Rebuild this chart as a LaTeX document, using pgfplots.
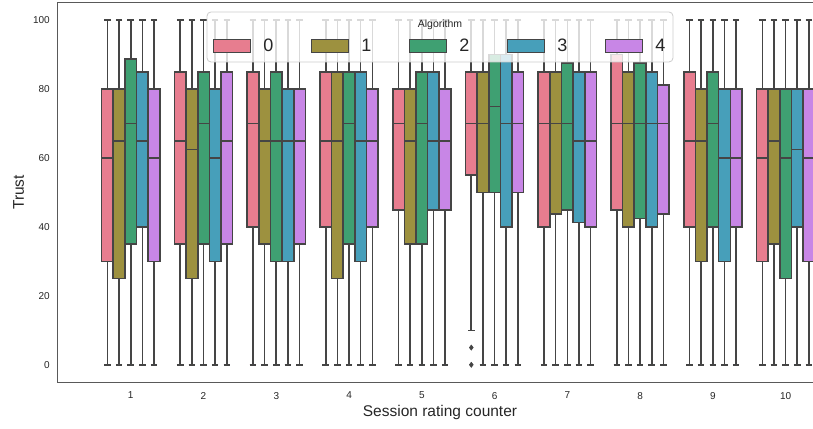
\documentclass[border=0pt]{standalone}
\usepackage{pgfplots}
\pgfplotsset{compat=1.18}
\usepgfplotslibrary{statistics}
\usepackage{fontspec}
\setmainfont{Liberation Sans}
\definecolor{c0}{HTML}{E77D8F}
\definecolor{c1}{HTML}{9D913F}
\definecolor{c2}{HTML}{3FA072}
\definecolor{c3}{HTML}{479FBA}
\definecolor{c4}{HTML}{C886E6}
\definecolor{edge}{HTML}{454545}
\definecolor{txt}{HTML}{262626}
% group, hue, lower quartile, median, upper quartile
\newcommand{\bx}[5]{\addplot[forget plot, fill=c#2, draw=edge, line width=1.6pt,
  boxplot prepared={draw direction=y, draw position={#1+(#2-2)*0.16}, lower whisker=0, lower quartile=#3,
  median=#4, upper quartile=#5, upper whisker=100, box extend=0.16, whisker extend=0.09,
  every whisker/.style={draw=edge, line width=1.6pt},
  every median/.style={draw=edge, line width=1.6pt},
  every box/.style={draw=edge, line width=1.6pt, fill=c#2}}] coordinates {};}
\newcommand{\leg}[2]{\addlegendimage{legend image code/.code={\draw[fill=#1,draw=edge,line width=1pt] (0pt,-6.5pt) rectangle (37pt,6.5pt);}}\addlegendentry{#2}}
\begin{document}
\begin{tikzpicture}
\begin{axis}[at={(0pt,0pt)}, anchor=south west, scale only axis,
  width=764pt, height=379pt,
  xmin=0, xmax=10.5, ymin=-5, ymax=105,
  xtick={1,...,10}, ytick={0,20,...,100},
  major tick length=0pt,
  axis line style={draw=black!65, line width=1pt},
  tick label style={font=\fontsize{10}{12}\selectfont, text=txt},
  /pgf/number format/assume math mode=true,
  yticklabel style={xshift=-4.7pt},
  xticklabel style={yshift=-6.5pt},
  xlabel={Session rating counter}, ylabel={Trust},
  label style={font=\fontsize{15.5}{18}\selectfont, text=txt},
  xlabel style={at={(axis description cs:0.5,-0.0792)}, anchor=center},
  ylabel style={at={(axis description cs:-0.0517,0.5)}, anchor=center},
  legend columns=5,
  legend cell align=left,
  legend style={at={(axis cs:2.134,92.58)}, anchor=west, draw=none, fill=none,
    inner sep=0pt, outer sep=0pt, font=\fontsize{18}{21}\selectfont, text=txt,
    /tikz/every odd column/.append style={column sep=10pt},
    /tikz/every even column/.append style={column sep=36pt}},
]
% group 1
\bx{1}{0}{30}{60}{80}
\bx{1}{1}{25}{65}{80}
\bx{1}{2}{35}{70}{88.75}
\bx{1}{3}{40}{65}{85}
\bx{1}{4}{30}{60}{80}
% group 2
\bx{2}{0}{35}{65}{85}
\bx{2}{1}{25}{62.5}{80}
\bx{2}{2}{35}{70}{85}
\bx{2}{3}{30}{60}{80}
\bx{2}{4}{35}{65}{85}
% group 3
\bx{3}{0}{40}{70}{85}
\bx{3}{1}{35}{65}{80}
\bx{3}{2}{30}{65}{85}
\bx{3}{3}{30}{65}{80}
\bx{3}{4}{35}{65}{80}
% group 4
\bx{4}{0}{40}{65}{85}
\bx{4}{1}{25}{65}{85}
\bx{4}{2}{35}{70}{85}
\bx{4}{3}{30}{65}{85}
\bx{4}{4}{40}{65}{80}
% group 5
\bx{5}{0}{45}{70}{80}
\bx{5}{1}{35}{65}{80}
\bx{5}{2}{35}{70}{85}
\bx{5}{3}{45}{65}{85}
\bx{5}{4}{45}{65}{80}
% group 6
\addplot[forget plot, fill=c0, draw=edge, line width=1.6pt,
  mark=diamond*, mark size=2.6pt, mark options={fill=edge, draw=edge, line width=0.5pt},
  boxplot prepared={draw direction=y, draw position={6-0.32}, lower whisker=10, lower quartile=55,
  median=70, upper quartile=85, upper whisker=100, box extend=0.16, whisker extend=0.09,
  every whisker/.style={draw=edge, line width=1.6pt},
  every median/.style={draw=edge, line width=1.6pt},
  every box/.style={draw=edge, line width=1.6pt, fill=c0}}]
  table[row sep=\\, y index=0] {data\\ 5\\ 0\\};
\bx{6}{1}{50}{70}{85}
\bx{6}{2}{50}{75}{90}
\bx{6}{3}{40}{70}{90}
\bx{6}{4}{50}{70}{85}
% group 7
\bx{7}{0}{40}{70}{85}
\bx{7}{1}{43.75}{70}{85}
\bx{7}{2}{45}{70}{87.5}
\bx{7}{3}{41.25}{65}{85}
\bx{7}{4}{40}{65}{85}
% group 8
\bx{8}{0}{45}{70}{90}
\bx{8}{1}{40}{70}{85}
\bx{8}{2}{42.5}{70}{87.5}
\bx{8}{3}{40}{70}{85}
\bx{8}{4}{43.75}{70}{81.25}
% group 9
\bx{9}{0}{40}{65}{85}
\bx{9}{1}{30}{65}{80}
\bx{9}{2}{40}{70}{85}
\bx{9}{3}{30}{60}{80}
\bx{9}{4}{40}{60}{80}
% group 10
\bx{10}{0}{30}{60}{80}
\bx{10}{1}{35}{65}{80}
\bx{10}{2}{25}{60}{80}
\bx{10}{3}{40}{62.5}{80}
\bx{10}{4}{30}{60}{80}
% legend frame
\draw[draw=black!20, fill=white, fill opacity=0.8, rounded corners=4pt, line width=0.8pt]
  (axis cs:2.048,102.39) rectangle (axis cs:8.452,87.88);
\coordinate (lt) at (axis cs:5.25,98.76);
\leg{c0}{0}
\leg{c1}{1}
\leg{c2}{2}
\leg{c3}{3}
\leg{c4}{4}
\end{axis}
\node[font=\fontsize{10.5}{12}\selectfont, text=txt] at (lt) {Algorithm};
\pgfresetboundingbox
\useasboundingbox (-58pt,-46pt) rectangle (755pt,382pt);
\end{tikzpicture}
\end{document}
